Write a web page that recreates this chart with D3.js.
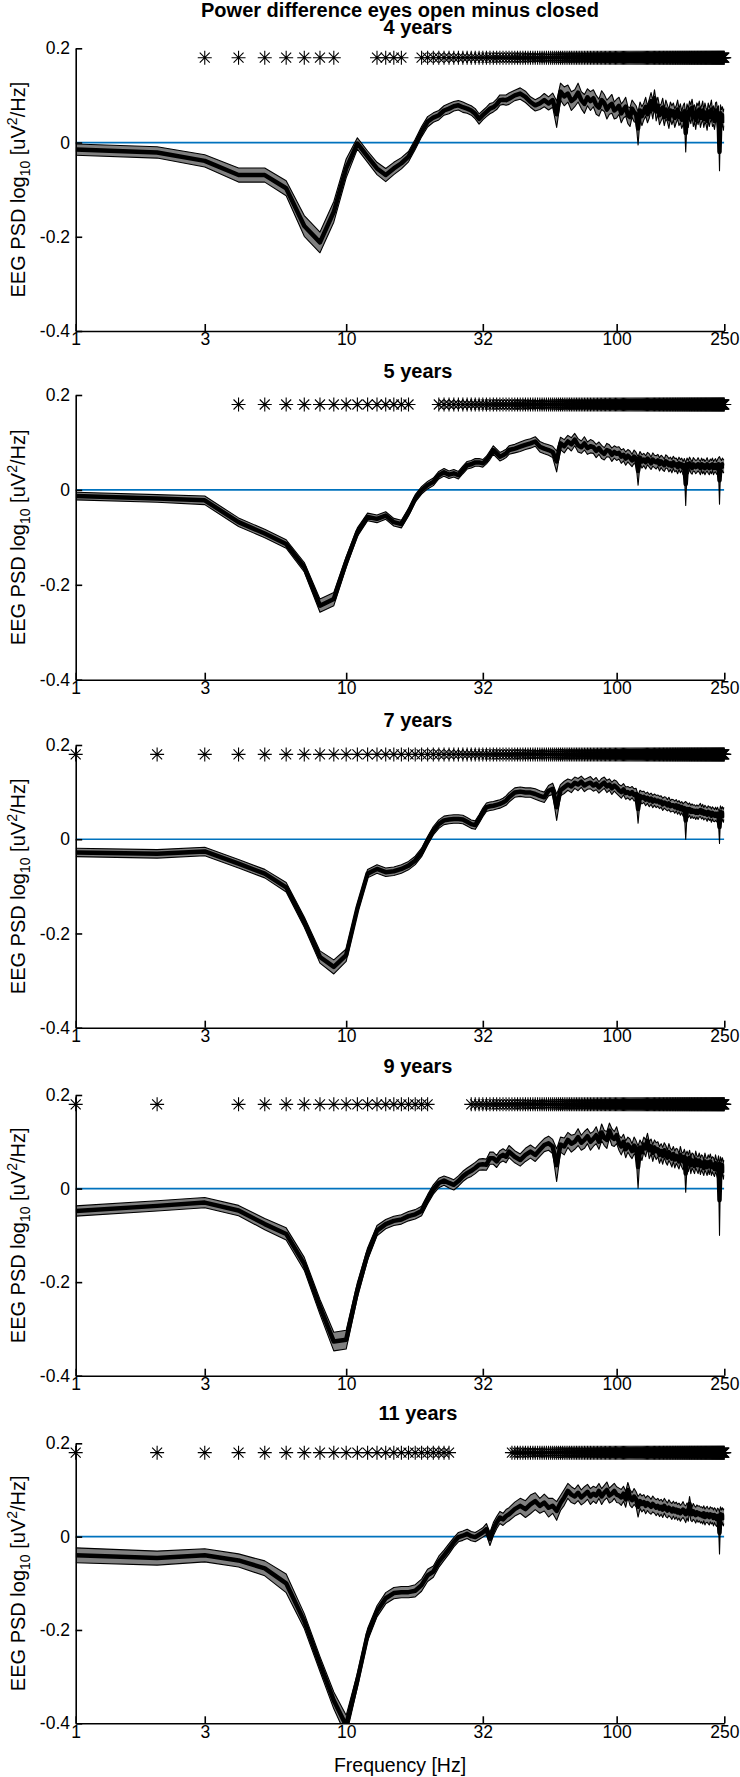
<!DOCTYPE html>
<html><head><meta charset="utf-8">
<script src="https://cdn.jsdelivr.net/npm/d3@7"></script>
<style>body{margin:0;background:#fff} svg text{font-family:"Liberation Sans",Arial,sans-serif}</style>
</head><body><svg id="chart" width="740" height="1777"></svg>
<script>
const mainTitle = "Power difference eyes open minus closed";
const panelTitles = ["4 years","5 years","7 years","9 years","11 years"];
const xTicks = [1,3,10,32,100,250];
const yTicks = [0.2,0,-0.2,-0.4];
const freqs = [1,2,3,4,5,6,7,8,9,10,11,12,13,14,15,16,17,18,19,20,21,22,23,24,25,26,27,28,29,30,31,32,33,34,35,36,37,38,39,40,
42,44,46,48,50,52,54,56,58,60,62,64,66,68,70,72,74,76,78,80,82,84,86,88,90,92,94,96,98,100,
102,104,106,108,110,112,114,116,118,120,122,124,126,128,130,132,134,136,138,140,
142,144,146,148,150,152,154,156,158,160,162,164,166,168,170,172,174,176,178,180,
182,184,186,188,190,192,194,196,198,200,202,204,206,208,210,212,214,216,218,220,
222,224,226,228,230,232,234,236,238,240,242,244,246,248,250];

const mean4y = [-0.015,-0.021,-0.039,-0.069,-0.069,-0.097,-0.177,-0.212,-0.147,-0.055,
-0.002,-0.030,-0.055,-0.069,-0.055,-0.044,-0.030,-0.004,0.023,0.044,
0.053,0.058,0.068,0.072,0.077,0.079,0.075,0.072,0.068,0.061,
0.050,0.058,0.065,0.072,0.075,0.081,0.090,0.091,0.090,0.093,
0.100,0.104,0.097,0.086,0.079,0.083,0.090,0.083,0.090,0.060,
0.108,0.098,0.104,0.088,0.094,0.106,0.090,0.082,0.096,0.088,
0.094,0.080,0.074,0.090,0.084,0.070,0.078,0.082,0.068,0.072,
0.078,0.062,0.070,0.076,0.058,0.054,0.072,0.064,0.060,0.030,
0.068,0.056,0.066,0.076,0.060,0.072,0.088,0.070,0.094,0.066,
0.078,0.058,0.064,0.074,0.054,0.070,0.062,0.050,0.068,0.058,
0.066,0.052,0.060,0.070,0.054,0.062,0.048,0.058,0.066,0.020,
0.064,0.052,0.070,0.060,0.074,0.054,0.062,0.048,0.066,0.058,
0.070,0.052,0.060,0.068,0.050,0.064,0.056,0.046,0.066,0.054,
0.062,0.070,0.052,0.058,0.046,0.064,0.068,0.050,0.058,-0.020,
0.062,0.050,0.058,0.046,0.054];
const ci4y = [0.012,0.012,0.013,0.015,0.015,0.016,0.022,0.022,0.022,0.020,
0.012,0.012,0.013,0.014,0.013,0.012,0.011,0.011,0.011,0.011,
0.010,0.010,0.010,0.011,0.010,0.010,0.011,0.010,0.010,0.011,
0.011,0.010,0.010,0.011,0.010,0.011,0.011,0.010,0.011,0.012,
0.011,0.012,0.012,0.011,0.012,0.013,0.014,0.014,0.015,0.028,
0.018,0.020,0.018,0.020,0.018,0.020,0.018,0.020,0.018,0.020,
0.018,0.020,0.018,0.020,0.018,0.020,0.018,0.020,0.018,0.020,
0.018,0.020,0.018,0.020,0.018,0.020,0.018,0.020,0.018,0.035,
0.018,0.020,0.018,0.020,0.018,0.020,0.018,0.020,0.018,0.020,
0.018,0.020,0.018,0.020,0.018,0.020,0.018,0.020,0.018,0.020,
0.018,0.020,0.018,0.020,0.018,0.020,0.018,0.020,0.018,0.040,
0.018,0.020,0.018,0.020,0.018,0.020,0.018,0.020,0.018,0.020,
0.018,0.020,0.018,0.020,0.018,0.020,0.018,0.020,0.018,0.020,
0.018,0.020,0.018,0.020,0.018,0.020,0.018,0.020,0.020,0.040,
0.018,0.020,0.018,0.020,0.018];

const mean5y = [-0.013,-0.018,-0.022,-0.068,-0.092,-0.114,-0.163,-0.244,-0.230,-0.152,
-0.089,-0.057,-0.061,-0.054,-0.068,-0.072,-0.047,-0.018,-0.001,0.010,
0.017,0.031,0.037,0.032,0.035,0.031,0.042,0.052,0.054,0.058,
0.058,0.056,0.063,0.073,0.084,0.077,0.070,0.073,0.077,0.084,
0.087,0.091,0.095,0.098,0.102,0.091,0.087,0.084,0.080,0.060,
0.098,0.092,0.102,0.096,0.106,0.094,0.090,0.098,0.088,0.092,
0.090,0.082,0.088,0.080,0.076,0.084,0.082,0.074,0.080,0.076,
0.078,0.070,0.074,0.066,0.072,0.068,0.062,0.070,0.066,0.040,
0.068,0.060,0.064,0.058,0.066,0.062,0.056,0.064,0.060,0.058,
0.062,0.054,0.060,0.056,0.052,0.060,0.058,0.052,0.056,0.050,
0.058,0.052,0.054,0.048,0.056,0.050,0.054,0.046,0.052,0.012,
0.054,0.048,0.056,0.050,0.046,0.054,0.052,0.048,0.050,0.054,
0.050,0.046,0.054,0.048,0.052,0.046,0.050,0.054,0.048,0.046,
0.052,0.048,0.054,0.046,0.050,0.052,0.046,0.050,0.054,0.020,
0.052,0.048,0.054,0.050,0.050];
const ci5y = [0.008,0.008,0.009,0.009,0.009,0.009,0.010,0.014,0.014,0.011,
0.009,0.008,0.008,0.008,0.008,0.008,0.008,0.008,0.008,0.008,
0.008,0.008,0.008,0.008,0.008,0.008,0.008,0.008,0.008,0.008,
0.008,0.008,0.008,0.009,0.009,0.009,0.009,0.009,0.009,0.009,
0.009,0.010,0.010,0.010,0.010,0.011,0.011,0.011,0.012,0.022,
0.013,0.014,0.013,0.014,0.013,0.014,0.013,0.014,0.013,0.014,
0.013,0.014,0.013,0.014,0.013,0.014,0.013,0.014,0.013,0.014,
0.013,0.014,0.013,0.014,0.013,0.014,0.013,0.014,0.013,0.030,
0.013,0.014,0.013,0.014,0.013,0.014,0.013,0.014,0.013,0.014,
0.013,0.014,0.013,0.014,0.013,0.014,0.013,0.014,0.013,0.014,
0.013,0.014,0.013,0.014,0.013,0.014,0.013,0.014,0.014,0.045,
0.013,0.014,0.013,0.014,0.013,0.014,0.013,0.014,0.013,0.014,
0.013,0.014,0.013,0.014,0.013,0.014,0.013,0.014,0.013,0.014,
0.013,0.014,0.013,0.014,0.013,0.014,0.013,0.014,0.014,0.050,
0.013,0.014,0.013,0.014,0.013];

const mean7y = [-0.028,-0.031,-0.026,-0.052,-0.073,-0.102,-0.176,-0.250,-0.271,-0.246,
-0.147,-0.073,-0.063,-0.070,-0.068,-0.063,-0.056,-0.045,-0.028,-0.003,
0.018,0.032,0.040,0.042,0.043,0.043,0.042,0.037,0.032,0.030,
0.043,0.057,0.068,0.070,0.071,0.073,0.075,0.078,0.082,0.089,
0.099,0.101,0.099,0.099,0.096,0.092,0.089,0.103,0.107,0.068,
0.104,0.110,0.116,0.112,0.120,0.116,0.122,0.114,0.118,0.120,
0.114,0.118,0.110,0.116,0.120,0.112,0.116,0.108,0.114,0.110,
0.104,0.100,0.106,0.098,0.100,0.096,0.100,0.094,0.096,0.064,
0.092,0.088,0.090,0.084,0.088,0.082,0.086,0.080,0.084,0.080,
0.082,0.078,0.080,0.074,0.078,0.076,0.072,0.076,0.070,0.072,
0.072,0.068,0.072,0.066,0.070,0.064,0.068,0.062,0.066,0.040,
0.064,0.060,0.064,0.058,0.062,0.058,0.060,0.056,0.060,0.056,
0.060,0.062,0.056,0.060,0.054,0.058,0.056,0.052,0.058,0.054,
0.056,0.050,0.056,0.052,0.050,0.054,0.050,0.054,0.048,0.026,
0.058,0.050,0.056,0.050,0.055];
const ci7y = [0.009,0.009,0.009,0.009,0.009,0.010,0.011,0.013,0.015,0.013,
0.010,0.009,0.009,0.009,0.009,0.009,0.009,0.009,0.009,0.009,
0.009,0.009,0.009,0.009,0.009,0.009,0.009,0.009,0.009,0.009,
0.009,0.009,0.009,0.009,0.009,0.009,0.009,0.009,0.010,0.010,
0.010,0.010,0.010,0.010,0.011,0.011,0.011,0.011,0.012,0.028,
0.012,0.013,0.012,0.013,0.012,0.013,0.012,0.013,0.012,0.013,
0.012,0.013,0.012,0.013,0.012,0.013,0.012,0.013,0.012,0.013,
0.012,0.013,0.012,0.013,0.012,0.013,0.012,0.013,0.012,0.030,
0.012,0.013,0.012,0.013,0.012,0.013,0.012,0.013,0.012,0.013,
0.012,0.013,0.012,0.013,0.012,0.013,0.012,0.013,0.012,0.013,
0.012,0.013,0.012,0.013,0.012,0.013,0.012,0.013,0.012,0.040,
0.013,0.014,0.013,0.014,0.013,0.014,0.013,0.014,0.013,0.014,
0.013,0.014,0.013,0.014,0.013,0.014,0.013,0.014,0.013,0.014,
0.013,0.014,0.013,0.014,0.013,0.014,0.013,0.014,0.014,0.035,
0.013,0.014,0.013,0.014,0.013];

const mean9y = [-0.048,-0.037,-0.030,-0.047,-0.076,-0.097,-0.161,-0.253,-0.327,-0.323,
-0.217,-0.140,-0.090,-0.076,-0.069,-0.066,-0.059,-0.055,-0.048,-0.023,
-0.002,0.012,0.017,0.012,0.008,0.016,0.026,0.033,0.038,0.044,
0.051,0.052,0.051,0.065,0.065,0.058,0.068,0.072,0.068,0.079,
0.068,0.061,0.072,0.079,0.072,0.083,0.093,0.097,0.090,0.050,
0.094,0.090,0.104,0.096,0.100,0.110,0.098,0.104,0.112,0.100,
0.106,0.114,0.100,0.120,0.108,0.104,0.124,0.110,0.106,0.114,
0.098,0.090,0.100,0.084,0.094,0.088,0.080,0.092,0.086,0.046,
0.088,0.078,0.094,0.086,0.102,0.082,0.090,0.076,0.088,0.080,
0.084,0.072,0.080,0.070,0.082,0.074,0.066,0.078,0.070,0.064,
0.074,0.062,0.070,0.066,0.058,0.072,0.062,0.058,0.068,0.032,
0.064,0.054,0.066,0.050,0.060,0.056,0.048,0.062,0.054,0.050,
0.060,0.048,0.056,0.052,0.044,0.058,0.050,0.046,0.056,0.048,
0.058,0.046,0.052,0.048,0.042,0.054,0.046,0.040,0.052,-0.025,
0.052,0.040,0.050,0.038,0.045];
const ci9y = [0.011,0.011,0.011,0.011,0.012,0.013,0.014,0.016,0.020,0.020,
0.016,0.013,0.011,0.010,0.010,0.010,0.010,0.010,0.010,0.010,
0.010,0.010,0.010,0.011,0.011,0.011,0.011,0.011,0.012,0.012,
0.012,0.012,0.012,0.013,0.013,0.013,0.013,0.013,0.013,0.013,
0.013,0.013,0.014,0.014,0.014,0.014,0.014,0.015,0.015,0.035,
0.016,0.018,0.016,0.018,0.016,0.018,0.016,0.018,0.016,0.018,
0.016,0.018,0.016,0.018,0.016,0.018,0.016,0.018,0.016,0.018,
0.016,0.018,0.016,0.018,0.016,0.018,0.016,0.018,0.016,0.045,
0.016,0.018,0.016,0.018,0.016,0.018,0.016,0.018,0.016,0.018,
0.016,0.018,0.016,0.018,0.016,0.018,0.016,0.018,0.016,0.018,
0.016,0.018,0.016,0.018,0.016,0.018,0.016,0.018,0.016,0.040,
0.016,0.018,0.016,0.018,0.016,0.018,0.016,0.018,0.016,0.018,
0.016,0.018,0.016,0.018,0.016,0.018,0.016,0.018,0.016,0.018,
0.016,0.018,0.016,0.018,0.016,0.018,0.016,0.018,0.018,0.075,
0.016,0.018,0.016,0.018,0.016];

const mean11y = [-0.040,-0.046,-0.040,-0.051,-0.068,-0.100,-0.181,-0.273,-0.351,-0.405,
-0.308,-0.210,-0.160,-0.132,-0.121,-0.119,-0.119,-0.116,-0.104,-0.083,
-0.075,-0.054,-0.040,-0.026,-0.012,-0.001,0.002,0.006,0.001,-0.001,
0.004,0.009,0.016,-0.005,0.016,0.030,0.041,0.037,0.044,0.048,
0.059,0.066,0.059,0.069,0.076,0.066,0.073,0.062,0.066,0.055,
0.072,0.084,0.098,0.090,0.086,0.094,0.084,0.090,0.096,0.086,
0.092,0.088,0.098,0.086,0.094,0.100,0.088,0.092,0.098,0.090,
0.088,0.084,0.092,0.080,0.100,0.084,0.078,0.086,0.080,0.064,
0.076,0.070,0.074,0.066,0.072,0.068,0.064,0.070,0.066,0.062,
0.066,0.060,0.064,0.058,0.066,0.060,0.056,0.062,0.058,0.054,
0.060,0.054,0.058,0.052,0.056,0.050,0.054,0.058,0.052,0.048,
0.056,0.050,0.070,0.052,0.048,0.054,0.050,0.046,0.052,0.048,
0.050,0.046,0.048,0.044,0.050,0.042,0.046,0.048,0.044,0.042,
0.048,0.044,0.046,0.040,0.046,0.042,0.038,0.044,0.042,0.008,
0.048,0.040,0.046,0.040,0.044];
const ci11y = [0.016,0.015,0.014,0.014,0.016,0.020,0.016,0.016,0.018,0.022,
0.015,0.013,0.012,0.012,0.012,0.012,0.012,0.013,0.013,0.013,
0.012,0.012,0.011,0.011,0.010,0.010,0.010,0.010,0.010,0.010,
0.010,0.010,0.012,0.014,0.014,0.013,0.013,0.013,0.014,0.014,
0.015,0.016,0.018,0.020,0.018,0.016,0.018,0.020,0.016,0.020,
0.016,0.017,0.016,0.017,0.016,0.017,0.016,0.017,0.016,0.017,
0.016,0.017,0.016,0.017,0.016,0.017,0.016,0.017,0.016,0.017,
0.016,0.017,0.016,0.017,0.016,0.017,0.016,0.017,0.016,0.022,
0.016,0.017,0.016,0.017,0.016,0.017,0.016,0.017,0.016,0.017,
0.016,0.017,0.016,0.017,0.016,0.017,0.016,0.017,0.016,0.017,
0.016,0.017,0.016,0.017,0.016,0.017,0.016,0.017,0.016,0.018,
0.016,0.017,0.016,0.017,0.016,0.017,0.016,0.017,0.016,0.017,
0.016,0.017,0.016,0.017,0.016,0.017,0.016,0.017,0.016,0.017,
0.016,0.017,0.016,0.017,0.016,0.017,0.016,0.017,0.017,0.045,
0.016,0.017,0.016,0.017,0.016];

// significant frequency ranges (Hz, inclusive) marked with asterisks
const sig4y = [[3,9],[13,16],[19,250]];
const sig5y = [[4,17],[22,250]];
const sig7y = [[1,250]];
const sig9y = [[1,2],[4,20],[29,250]];
const sig11y = [[1,24],[41,250]];
const sigLevel = 0.18;

const panels = [
  {title: panelTitles[0], mean: mean4y, ci: ci4y, sig: sig4y},
  {title: panelTitles[1], mean: mean5y, ci: ci5y, sig: sig5y},
  {title: panelTitles[2], mean: mean7y, ci: ci7y, sig: sig7y},
  {title: panelTitles[3], mean: mean9y, ci: ci9y, sig: sig9y},
  {title: panelTitles[4], mean: mean11y, ci: ci11y, sig: sig11y}
];

// layout (pixels)
const layout = {
  tops: [48.3, 395, 745, 1095, 1443.3],
  bottoms: [331, 679.7, 1027.7, 1375.7, 1723.3],
  titleY: [33.5, 378, 726.7, 1073.3, 1419.5]
};

const svg = d3.select("#chart");
const x = d3.scaleLog().domain([1, 250]).range([75.7, 724.3]);
const ink = "#000";

svg.append("text").attr("x", 400).attr("y", 16.5).attr("text-anchor", "middle")
  .attr("font-weight", "bold").attr("font-size", 20).attr("fill", ink).text(mainTitle);

const star = "M-7,0H7M0,-7V7M-5,-5L5,5M-5,5L5,-5";

panels.forEach((p, i) => {
  const y = d3.scaleLinear().domain([-0.4, 0.2]).range([layout.bottoms[i], layout.tops[i]]);
  const g = svg.append("g");
  const clipId = "clip" + i;
  svg.append("clipPath").attr("id", clipId).append("rect")
    .attr("x", x(1)).attr("y", y(0.2)).attr("width", x(250) - x(1)).attr("height", y(-0.4) - y(0.2));

  const plot = g.append("g").attr("clip-path", `url(#${clipId})`);
  plot.append("line").attr("x1", x(1)).attr("x2", x(250)).attr("y1", y(0)).attr("y2", y(0))
    .attr("stroke", "#0072BD").attr("stroke-width", 1.7);

  const data = freqs.map((f, k) => ({f: f, m: p.mean[k], h: p.ci[k]}));
  plot.append("path").datum(data)
    .attr("d", d3.area().x(d => x(d.f)).y0(d => y(d.m - d.h)).y1(d => y(d.m + d.h)))
    .attr("fill", "#808080");
  [1, -1].forEach(s => {
    plot.append("path").datum(data)
      .attr("d", d3.line().x(d => x(d.f)).y(d => y(d.m + s * d.h)))
      .attr("fill", "none").attr("stroke", ink).attr("stroke-width", 1.1).attr("stroke-linejoin", "round");
  });
  plot.append("path").datum(data)
    .attr("d", d3.line().x(d => x(d.f)).y(d => y(d.m)))
    .attr("fill", "none").attr("stroke", ink).attr("stroke-width", 4.5).attr("stroke-linejoin", "round");

  // significance asterisks
  const sigF = [];
  p.sig.forEach(r => { for (let f = r[0]; f <= r[1]; f++) sigF.push(f); });
  g.append("g").selectAll("path").data(sigF).join("path")
    .attr("d", star).attr("transform", f => `translate(${x(f)},${y(sigLevel)})`)
    .attr("fill", "none").attr("stroke", ink).attr("stroke-width", 1.1);

  // axes
  const xa = g.append("g").attr("transform", `translate(0,${y(-0.4)})`)
    .call(d3.axisBottom(x).tickValues(xTicks).tickFormat(d => String(d))
      .tickSizeInner(-7).tickSizeOuter(0).tickPadding(2));
  const ya = g.append("g").attr("transform", `translate(${x(1)},0)`)
    .call(d3.axisLeft(y).tickValues(yTicks).tickFormat(d => String(d))
      .tickSizeInner(-6.5).tickSizeOuter(0).tickPadding(5.7));
  [xa, ya].forEach(a => {
    a.attr("font-family", null).attr("font-size", 17.5);
    a.select(".domain").attr("stroke", ink).attr("stroke-width", 1.6);
    a.selectAll(".tick line").attr("stroke", ink).attr("stroke-width", 1.6);
    a.selectAll(".tick text").attr("fill", ink);
  });

  // panel title
  g.append("text").attr("x", 418).attr("y", layout.titleY[i]).attr("text-anchor", "middle")
    .attr("font-weight", "bold").attr("font-size", 20).attr("fill", ink).text(p.title);

  // y label
  const cy = (layout.tops[i] + layout.bottoms[i]) / 2;
  const yl = g.append("text").attr("transform", `translate(25,${cy}) rotate(-90)`)
    .attr("text-anchor", "middle").attr("font-size", 20).attr("fill", ink);
  yl.append("tspan").text("EEG PSD log");
  yl.append("tspan").attr("font-size", 14).attr("dy", 5).text("10");
  yl.append("tspan").attr("dy", -5).text(" [uV");
  yl.append("tspan").attr("font-size", 14).attr("dy", -8).text("2");
  yl.append("tspan").attr("dy", 8).text("/Hz]");
});

svg.append("text").attr("x", 400).attr("y", 1771.5).attr("text-anchor", "middle")
  .attr("font-size", 19.5).attr("fill", ink).text("Frequency [Hz]");
</script>
</body></html>
